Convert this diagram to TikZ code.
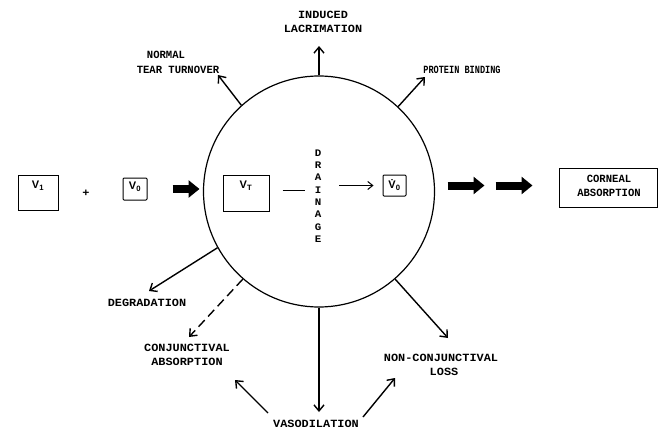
\documentclass[tikz,border=0pt]{standalone}
\usepackage{fontspec}
\setmainfont{Liberation Sans}
\newfontfamily\lblfont{Liberation Mono}[FakeStretch=1.08]
\newfontfamily\narrowfont{Liberation Mono}[FakeStretch=0.78]
\newfontfamily\midfont{Liberation Mono}[FakeStretch=0.96]
\usetikzlibrary{arrows.meta}
\tikzset{
  lbl/.style={font=\lblfont\fontsize{11}{14}\selectfont\bfseries, inner sep=0pt, align=center},
  vbox/.style={draw, line width=1pt, inner sep=0pt},
  flow/.style={line width=1.4pt, -{Straight Barb[length=6pt,width=10pt]}},
  thin/.style={line width=1pt},
  fat/.style={line width=8pt, -{Triangle[length=11pt,width=17pt]}},
  vtxt/.style={font=\fontsize{11}{12}\selectfont\bfseries, inner sep=0pt}
}
\begin{document}
\begin{tikzpicture}[x=1pt,y=-1pt]
\useasboundingbox (0,0) rectangle (662,431);
% central circle
\node[draw, circle, line width=1.2pt, minimum size=231pt, inner sep=0pt] (c) at (319,191.5) {};
% left boxes
\node[vbox, minimum width=40pt, minimum height=35pt] (v1) at (38,193) {};
\node[vtxt] (v1t) at (38,186) {V\textsubscript{1}};
\node[lbl] (plus) at (86,193) {+};
\node[vbox, minimum width=24pt, minimum height=22pt, rounded corners=1pt] (v0) at (135,189) {};
\node[vtxt] (v0t) at (135,187) {V\textsubscript{0}};
\node[vbox, minimum width=46pt, minimum height=36pt] (vt) at (246,193) {};
\node[vtxt] (vtt) at (246,186) {V\textsubscript{T}};
\node[vbox, minimum width=23pt, minimum height=21pt, rounded corners=1pt] (v0d) at (394.5,185.5) {};
\node[vtxt] (v0dt) at (394.5,185) {\.V\textsubscript{0}};
\node[vbox, minimum width=98pt, minimum height=39pt] (corn) at (608,187.5) {};
\node[lbl, font=\midfont\fontsize{11}{14}\selectfont\bfseries] (cornt) at (609,186) {CORNEAL\\ABSORPTION};
% drainage
\node[lbl, font=\lblfont\fontsize{10}{12.3}\selectfont\bfseries] (drain) at (318,196) {D\\R\\A\\I\\N\\A\\G\\E};
% inner connectors
\draw[thin, shorten <=13pt, shorten >=10pt] (vt.east |- 0,190) -- (drain.west |- 0,190);
\draw[thin, -{Straight Barb[length=5pt,width=8pt]}, shorten <=18pt, shorten >=9pt] (drain.east |- v0d.west) -- (v0d.west);
% fat arrows
\draw[fat, shorten <=25pt, shorten >=23pt] (v0.east) -- (v0.east -| vt.west);
\draw[fat, shorten <=41pt, shorten >=74pt] (v0d.east) -- (v0d.east -| corn.west);
\draw[fat, shorten <=89pt, shorten >=26pt] (v0d.east) -- (v0d.east -| corn.west);
% labels
\node[lbl] (lacr) at (323,22) {INDUCED\\LACRIMATION};
\node[lbl, font=\midfont\fontsize{11}{15}\selectfont\bfseries] (ntt) at (178,62) {NORMAL\hspace*{24pt}\\TEAR TURNOVER};
\node[lbl, font=\narrowfont\fontsize{11}{14}\selectfont\bfseries] (prot) at (462,70) {PROTEIN BINDING};
\node[lbl] (degr) at (147,303) {DEGRADATION};
\node[lbl] (conj) at (187,355) {CONJUNCTIVAL\\ABSORPTION};
\node[lbl] (ncl) at (441,365) {NON-CONJUNCTIVAL\\\hspace*{6pt}LOSS};
\node[lbl] (vaso) at (316,424) {VASODILATION};
% arrow tips
\coordinate (tntt) at (218,75);
\coordinate (tlacr) at (319,46);
\coordinate (tprot) at (425,77);
\coordinate (tdegr) at (149,291);
\coordinate (tconj) at (189,337);
\coordinate (tvaso) at (319,412);
\coordinate (tncl) at (448,338);
\coordinate (vl) at (268,413);
\coordinate (vr) at (363,417);
\coordinate (tconj2) at (235,380);
\coordinate (tncl2) at (395,378);
% outgoing arrows
\draw[flow] (c.132) -- (tntt);
\draw[flow] (c.90) -- (tlacr);
\draw[flow] (c.47) -- (tprot);
\draw[flow] (c.209) -- (tdegr);
\draw[flow, dash pattern=on 9pt off 5pt] (c.229) -- (tconj);
\draw[flow] (c.270) -- (tvaso);
\draw[flow] (c.311) -- (tncl);
\draw[flow] (vl) -- (tconj2);
\draw[flow] (vr) -- (tncl2);
\end{tikzpicture}
\end{document}
